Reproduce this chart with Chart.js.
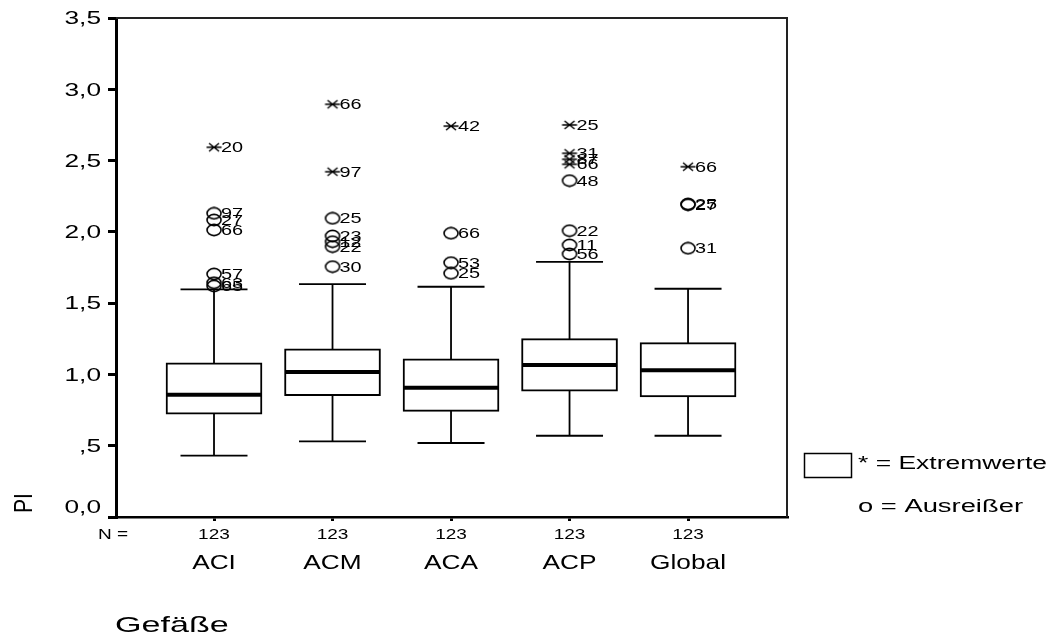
<!DOCTYPE html>
<html>
<head>
<meta charset="utf-8">
<title>PI nach Gefäßen</title>
<script src="https://cdn.jsdelivr.net/npm/chart.js@4/dist/chart.umd.min.js"></script>
<style>
  html, body { margin: 0; padding: 0; background: #fff; }
  #wrap { position: relative; width: 1056px; height: 637px; }
</style>
</head>
<body>
<div id="wrap"><canvas id="chart"></canvas></div>
<script>
// Gruppen (Gefäße) und Stichprobengröße
const categories = ['ACI', 'ACM', 'ACA', 'ACP', 'Global'];
const counts = [123, 123, 123, 123, 123];

// Boxplot-Kennwerte je Gefäß
const whiskerLow  = [0.430, 0.531, 0.519, 0.570, 0.570];
const quartile1   = [0.722, 0.851, 0.741, 0.882, 0.842];
const medians     = [0.858, 1.017, 0.907, 1.066, 1.029];
const quartile3   = [1.082, 1.180, 1.110, 1.251, 1.223];
const whiskerHigh = [1.597, 1.634, 1.615, 1.790, 1.601];

// Ausreißer (o): Gruppe, Wert, Fallnummer
const outlierCat = [0, 0, 0, 0, 0, 0, 1, 1, 1, 1, 1, 2, 2, 2, 3, 3, 3, 3, 4, 4, 4];
const outlierVal = [2.130, 2.083, 2.013, 1.704, 1.643, 1.620,
                    2.095, 1.971, 1.931, 1.896, 1.756,
                    1.990, 1.784, 1.709,
                    2.359, 2.008, 1.908, 1.845,
                    2.195, 2.190, 1.885];
const outlierId  = ['97', '27', '66', '57', '63', '65',
                    '25', '23', '12', '22', '30',
                    '66', '53', '25',
                    '48', '22', '11', '56',
                    '25', '27', '31'];

// Extremwerte (*): Gruppe, Wert, Fallnummer
const extremeCat = [0, 1, 1, 2, 3, 3, 3, 3, 4];
const extremeVal = [2.593, 2.895, 2.422, 2.742, 2.750, 2.551, 2.509, 2.474, 2.457];
const extremeId  = ['20', '66', '97', '42', '25', '31', '87', '66', '66'];

// Beschriftung der PI-Achse
const tickLabels = ['0,0', ',5', '1,0', '1,5', '2,0', '2,5', '3,0', '3,5'];

const FONT = '"Liberation Sans", Arial, Helvetica, sans-serif';

// Text, horizontal gedehnt, vertikal zentriert auf y
function wideText(ctx, text, x, y, size, sx, align) {
  ctx.save();
  ctx.font = size + 'px ' + FONT;
  ctx.fillStyle = '#000';
  ctx.textAlign = align || 'left';
  ctx.textBaseline = 'alphabetic';
  ctx.translate(x, y + size * 0.358);
  ctx.scale(sx, 1);
  ctx.fillText(text, 0, 0);
  ctx.restore();
}

// Punktsymbole: Ellipse für Ausreißer, Stern für Extremwerte
function makeCircleMarker() {
  const c = document.createElement('canvas');
  c.width = 18; c.height = 14;
  const g = c.getContext('2d');
  g.strokeStyle = '#000';
  g.lineWidth = 1.6;
  g.beginPath();
  g.ellipse(9, 7, 7, 5.6, 0, 0, Math.PI * 2);
  g.stroke();
  return c;
}
function makeStarMarker() {
  const c = document.createElement('canvas');
  c.width = 18; c.height = 12;
  const g = c.getContext('2d');
  g.strokeStyle = '#000';
  g.lineWidth = 1.5;
  g.beginPath();
  g.moveTo(1.5, 6); g.lineTo(16.5, 6);
  g.moveTo(4, 2); g.lineTo(14, 10);
  g.moveTo(4, 10); g.lineTo(14, 2);
  g.stroke();
  return c;
}

const boxData = categories.map((c, i) => ({ x: i, y: [quartile1[i], quartile3[i]] }));
const outlierData = outlierVal.map((v, i) => ({ x: outlierCat[i], y: v }));
const extremeData = extremeVal.map((v, i) => ({ x: extremeCat[i], y: v }));

const CAP_HALF = 33.5;

// Whisker unter den Boxen, Median darüber
const boxplotPlugin = {
  id: 'boxplotParts',
  beforeDatasetsDraw(chart) {
    const { ctx, scales: { x, y } } = chart;
    ctx.save();
    ctx.strokeStyle = '#000';
    ctx.lineWidth = 1.8;
    categories.forEach((c, i) => {
      const px = x.getPixelForValue(i);
      const yl = y.getPixelForValue(whiskerLow[i]);
      const yh = y.getPixelForValue(whiskerHigh[i]);
      ctx.beginPath();
      ctx.moveTo(px, yl); ctx.lineTo(px, yh);
      ctx.moveTo(px - CAP_HALF, yl); ctx.lineTo(px + CAP_HALF, yl);
      ctx.moveTo(px - CAP_HALF, yh); ctx.lineTo(px + CAP_HALF, yh);
      ctx.stroke();
    });
    ctx.restore();
  },
  afterDatasetsDraw(chart) {
    const { ctx, scales: { x, y }, chartArea } = chart;
    const boxes = chart.getDatasetMeta(0).data;
    ctx.save();
    ctx.strokeStyle = '#000';
    ctx.lineWidth = 4;
    boxes.forEach((bar, i) => {
      const half = bar.width / 2;
      const ym = y.getPixelForValue(medians[i]);
      ctx.beginPath();
      ctx.moveTo(bar.x - half + 1, ym);
      ctx.lineTo(bar.x + half - 1, ym);
      ctx.stroke();
    });

    // Fallnummern neben den Symbolen
    chart.getDatasetMeta(1).data.forEach((pt, i) => {
      wideText(ctx, outlierId[i], pt.x + 7, pt.y, 14, 1.42, 'left');
    });
    chart.getDatasetMeta(2).data.forEach((pt, i) => {
      wideText(ctx, extremeId[i], pt.x + 7, pt.y, 14, 1.42, 'left');
    });

    // Rahmen oben und rechts
    ctx.strokeStyle = '#222';
    ctx.lineWidth = 2;
    ctx.beginPath();
    ctx.moveTo(chartArea.left, chartArea.top);
    ctx.lineTo(chartArea.right, chartArea.top);
    ctx.lineTo(chartArea.right, chartArea.bottom);
    ctx.stroke();
    ctx.restore();
  },
  afterDraw(chart) {
    const { ctx, scales: { x, y }, chartArea } = chart;
    // Achsenbeschriftung PI
    y.ticks.forEach((t, i) => {
      const py = Math.min(y.getPixelForValue(t.value), chartArea.bottom - 10);
      wideText(ctx, tickLabels[i], 101, py, 17.5, 1.5, 'right');
    });
    // N-Zeile und Gruppennamen
    wideText(ctx, 'N =', 98, 533.5, 14, 1.36, 'left');
    categories.forEach((c, i) => {
      const px = x.getPixelForValue(i);
      wideText(ctx, String(counts[i]), px, 533.5, 14, 1.36, 'center');
      wideText(ctx, c, px, 561, 21, 1.25, 'center');
    });
    // Achsentitel
    wideText(ctx, 'Gefäße', 115, 624, 22, 1.55, 'left');
    ctx.save();
    ctx.font = '21px ' + FONT;
    ctx.fillStyle = '#000';
    ctx.textAlign = 'center';
    ctx.textBaseline = 'alphabetic';
    ctx.translate(22, 503);
    ctx.scale(1.27, 1);
    ctx.rotate(-Math.PI / 2);
    ctx.fillText('PI', 0, 21 * 0.358);
    ctx.restore();
    // Legende
    ctx.save();
    ctx.strokeStyle = '#000';
    ctx.lineWidth = 1.5;
    ctx.strokeRect(804.5, 453.5, 47, 24);
    ctx.restore();
    wideText(ctx, '* = Extremwerte', 858, 463, 18, 1.47, 'left');
    wideText(ctx, 'o = Ausreißer', 858, 506, 18, 1.52, 'left');
  }
};

new Chart(document.getElementById('chart'), {
  type: 'bar',
  data: {
    datasets: [
      {
        type: 'bar',
        data: boxData,
        backgroundColor: '#fff',
        borderColor: '#000',
        borderWidth: 2,
        borderSkipped: false,
        barThickness: 96
      },
      {
        type: 'scatter',
        data: outlierData,
        pointStyle: makeCircleMarker(),
        pointRadius: 7
      },
      {
        type: 'scatter',
        data: extremeData,
        pointStyle: makeStarMarker(),
        pointRadius: 7
      }
    ]
  },
  plugins: [boxplotPlugin],
  options: {
    responsive: true,
    maintainAspectRatio: false,
    animation: false,
    events: [],
    layout: { padding: { left: 108, right: 269, top: 18, bottom: 116 } },
    plugins: { legend: { display: false }, tooltip: { enabled: false } },
    scales: {
      x: {
        type: 'linear',
        offset: false,
        min: -0.827,
        max: 4.835,
        afterFit: s => { s.height = 4; },
        ticks: { display: false, stepSize: 1, includeBounds: false },
        grid: { offset: false, drawOnChartArea: false, color: '#000', lineWidth: 3, tickLength: 4 },
        border: { display: true, color: '#000', width: 2.5 }
      },
      y: {
        min: 0,
        max: 3.5,
        afterFit: s => { s.width = 8; },
        ticks: { display: false, stepSize: 0.5 },
        grid: { drawOnChartArea: false, color: '#000', lineWidth: 3, tickLength: 8 },
        border: { display: true, color: '#000', width: 3 }
      }
    }
  }
});
</script>
</body>
</html>
